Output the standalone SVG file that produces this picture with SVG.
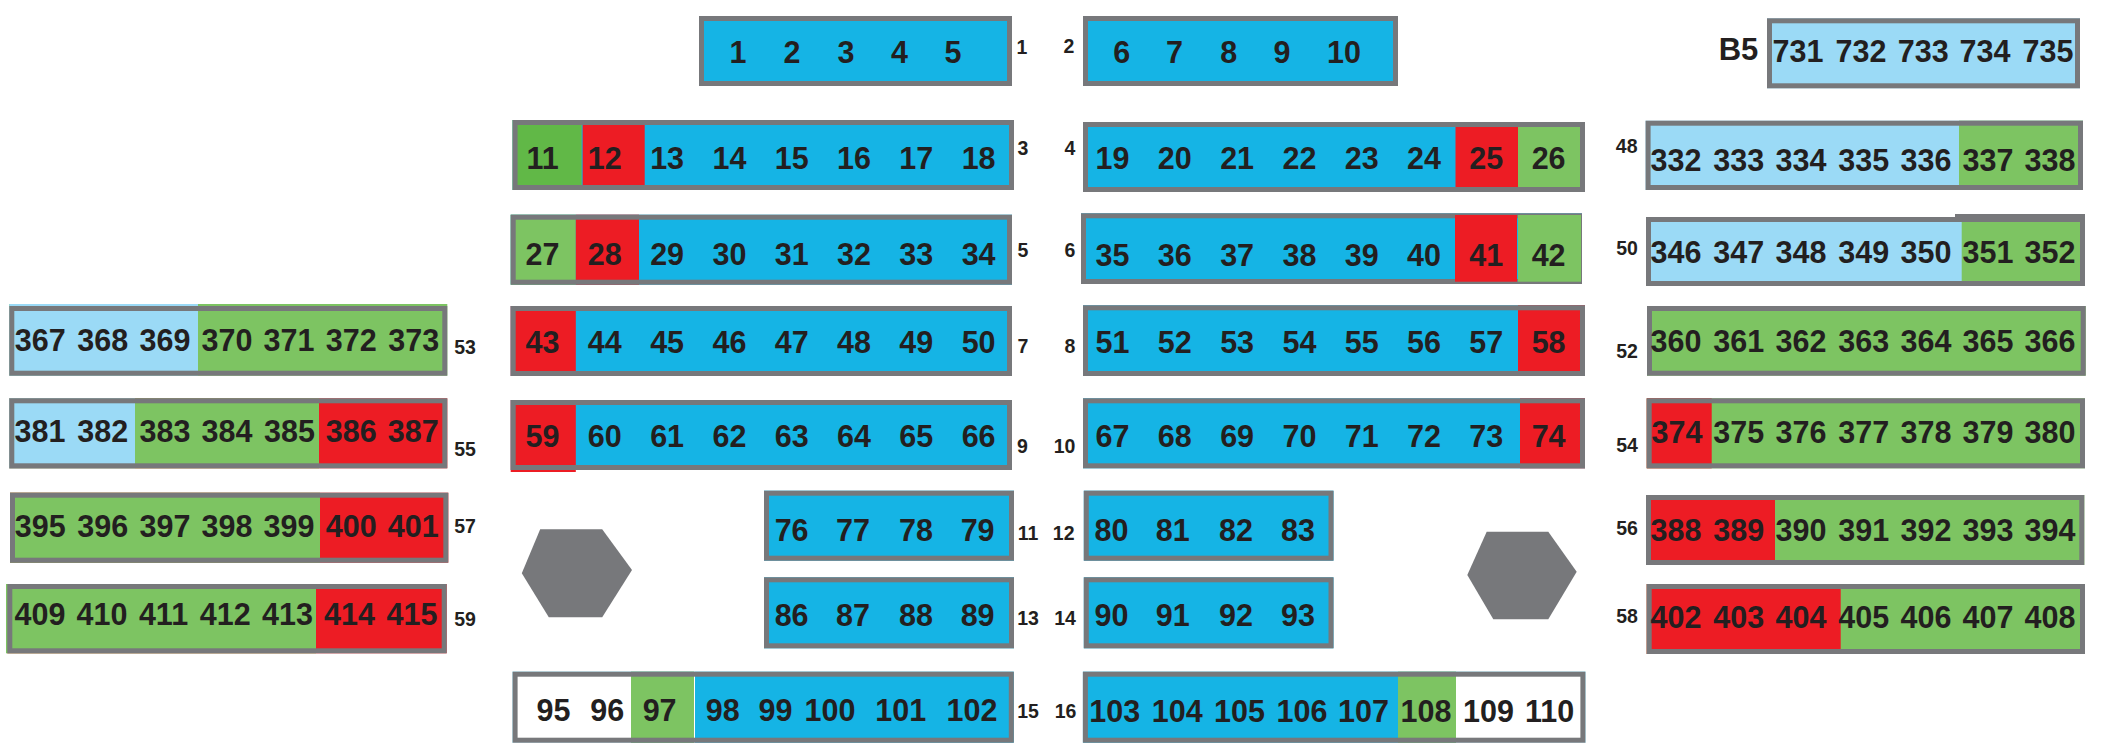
<svg xmlns="http://www.w3.org/2000/svg" width="2101" height="747" viewBox="0 0 2101 747">
<style>
.o{fill:none;stroke:#77787b;stroke-width:5}
.c{fill:#15b4e5}
.l{fill:#9bdaf6}
.g{fill:#7dc462}
.g2{fill:#61b847}
.r{fill:#ed1c24}
.w{fill:#fff}
.h{fill:#77787b}
text{font-family:"Liberation Sans",Arial,sans-serif;font-weight:bold;fill:#231f20;text-anchor:middle}
.t{font-size:30.5px}
.n{font-size:19.5px}
</style>
<rect width="2101" height="747" fill="#fff"/>
<g id="connectors"></g>

<g id="box1">
<rect class="c" x="699" y="16" width="313" height="70"/>
<rect class="o" x="701.5" y="18.5" width="308" height="65"/>
<text class="t" x="738" y="63">1</text><text class="t" x="792" y="63">2</text><text class="t" x="846" y="63">3</text><text class="t" x="899.5" y="63">4</text><text class="t" x="953" y="63">5</text>
<text class="n" x="1022" y="54">1</text>
</g>
<g id="box2">
<rect class="c" x="1083" y="16" width="315" height="70"/>
<rect class="o" x="1085.5" y="18.5" width="310" height="65"/>
<text class="t" x="1121.7" y="63">6</text><text class="t" x="1174.5" y="63">7</text><text class="t" x="1228.7" y="63">8</text><text class="t" x="1282" y="63">9</text><text class="t" x="1344" y="63">10</text>
<text class="n" x="1069" y="53">2</text>
</g>

<g id="box3">
<rect class="c" x="512.6" y="120" width="501.4" height="70"/>
<rect class="g2" x="512.6" y="120" width="69" height="70"/>
<rect class="r" x="582.6" y="120" width="62.1" height="70"/>
<rect class="o" x="515.1" y="122.5" width="496.4" height="65"/>
<text class="t" x="542.5" y="169.3">11</text><text class="t" x="604.8" y="169.3">12</text><text class="t" x="667.1" y="169.3">13</text><text class="t" x="729.4" y="169.3">14</text><text class="t" x="791.7" y="169.3">15</text><text class="t" x="854" y="169.3">16</text><text class="t" x="916.3" y="169.3">17</text><text class="t" x="978.6" y="169.3">18</text>
<text class="n" x="1023" y="155">3</text>
</g>
<g id="box4">
<rect class="c" x="1083" y="122" width="502" height="70"/>
<rect class="r" x="1455.5" y="122" width="62.5" height="70"/>
<rect class="g" x="1518" y="122" width="67" height="70"/>
<rect class="o" x="1085.5" y="124.5" width="497" height="65"/>
<text class="t" x="1112.5" y="169">19</text><text class="t" x="1174.8" y="169">20</text><text class="t" x="1237.1" y="169">21</text><text class="t" x="1299.4" y="169">22</text><text class="t" x="1361.7" y="169">23</text><text class="t" x="1424" y="169">24</text><text class="t" x="1486.3" y="169">25</text><text class="t" x="1548.6" y="169">26</text>
<text class="n" x="1070" y="155">4</text>
</g>

<g id="box5">
<rect class="c" x="510.7" y="214.7" width="501.3" height="70"/>
<rect class="g" x="510.7" y="214.7" width="65.1" height="70"/>
<rect class="r" x="575.8" y="214.7" width="63.2" height="70"/>
<rect class="o" x="513.2" y="217.2" width="496.3" height="65"/>
<text class="t" x="542.5" y="265">27</text><text class="t" x="604.8" y="265">28</text><text class="t" x="667.1" y="265">29</text><text class="t" x="729.4" y="265">30</text><text class="t" x="791.7" y="265">31</text><text class="t" x="854" y="265">32</text><text class="t" x="916.3" y="265">33</text><text class="t" x="978.6" y="265">34</text>
<text class="n" x="1023" y="257">5</text>
</g>
<g id="box6">
<rect class="c" x="1081" y="213.3" width="501" height="70.7"/>
<rect class="o" x="1083.5" y="215.8" width="496" height="65.7"/>
<rect class="r" x="1455" y="215" width="62" height="66.7"/>
<rect class="g" x="1518" y="215" width="63" height="66.7"/>
<text class="t" x="1112.5" y="266">35</text><text class="t" x="1174.8" y="266">36</text><text class="t" x="1237.1" y="266">37</text><text class="t" x="1299.4" y="266">38</text><text class="t" x="1361.7" y="266">39</text><text class="t" x="1424" y="266">40</text><text class="t" x="1486.3" y="266">41</text><text class="t" x="1548.6" y="266">42</text>
<text class="n" x="1070" y="257">6</text>
</g>

<g id="box7">
<rect class="c" x="510.7" y="306" width="501.3" height="70"/>
<rect class="r" x="510.7" y="306" width="65.1" height="70"/>
<rect class="o" x="513.2" y="308.5" width="496.3" height="65"/>
<text class="t" x="542.5" y="352.7">43</text><text class="t" x="604.8" y="352.7">44</text><text class="t" x="667.1" y="352.7">45</text><text class="t" x="729.4" y="352.7">46</text><text class="t" x="791.7" y="352.7">47</text><text class="t" x="854" y="352.7">48</text><text class="t" x="916.3" y="352.7">49</text><text class="t" x="978.6" y="352.7">50</text>
<text class="n" x="1023" y="353">7</text>
</g>
<g id="box8">
<rect class="c" x="1083" y="305.3" width="502" height="70.7"/>
<rect class="r" x="1518" y="305.3" width="67" height="70.7"/>
<rect class="o" x="1085.5" y="307.8" width="497" height="65.7"/>
<text class="t" x="1112.5" y="352.7">51</text><text class="t" x="1174.8" y="352.7">52</text><text class="t" x="1237.1" y="352.7">53</text><text class="t" x="1299.4" y="352.7">54</text><text class="t" x="1361.7" y="352.7">55</text><text class="t" x="1424" y="352.7">56</text><text class="t" x="1486.3" y="352.7">57</text><text class="t" x="1548.6" y="352.7">58</text>
<text class="n" x="1070" y="353">8</text>
</g>

<g id="box9">
<rect class="c" x="510.7" y="400" width="501.3" height="70"/>
<rect class="r" x="510.7" y="400" width="65.1" height="72"/>
<rect class="o" x="513.2" y="402.5" width="496.3" height="65"/>
<text class="t" x="542.5" y="446.7">59</text><text class="t" x="604.8" y="446.7">60</text><text class="t" x="667.1" y="446.7">61</text><text class="t" x="729.4" y="446.7">62</text><text class="t" x="791.7" y="446.7">63</text><text class="t" x="854" y="446.7">64</text><text class="t" x="916.3" y="446.7">65</text><text class="t" x="978.6" y="446.7">66</text>
<text class="n" x="1022.4" y="453">9</text>
</g>
<g id="box10">
<rect class="c" x="1083" y="398.3" width="502" height="70"/>
<rect class="r" x="1520" y="398.3" width="65" height="70"/>
<rect class="o" x="1085.5" y="400.8" width="497" height="65"/>
<text class="t" x="1112.5" y="446.7">67</text><text class="t" x="1174.8" y="446.7">68</text><text class="t" x="1237.1" y="446.7">69</text><text class="t" x="1299.4" y="446.7">70</text><text class="t" x="1361.7" y="446.7">71</text><text class="t" x="1424" y="446.7">72</text><text class="t" x="1486.3" y="446.7">73</text><text class="t" x="1548.6" y="446.7">74</text>
<text class="n" x="1064.5" y="453">10</text>
</g>

<g id="box11">
<rect class="c" x="764" y="490.7" width="250" height="70"/>
<rect class="o" x="766.5" y="493.2" width="245" height="65"/>
<text class="t" x="791.6" y="540.7">76</text><text class="t" x="853" y="540.7">77</text><text class="t" x="916" y="540.7">78</text><text class="t" x="977.6" y="540.7">79</text>
<text class="n" x="1028" y="540">11</text>
</g>
<g id="box12">
<rect class="c" x="1083.8" y="490.7" width="249.7" height="70"/>
<rect class="o" x="1086.3" y="493.2" width="244.7" height="65"/>
<text class="t" x="1111.4" y="540.7">80</text><text class="t" x="1172.8" y="540.7">81</text><text class="t" x="1236" y="540.7">82</text><text class="t" x="1298" y="540.7">83</text>
<text class="n" x="1063.7" y="540">12</text>
</g>
<g id="box13">
<rect class="c" x="764" y="577.3" width="250" height="71"/>
<rect class="o" x="766.5" y="579.8" width="245" height="66"/>
<text class="t" x="791.6" y="626">86</text><text class="t" x="853" y="626">87</text><text class="t" x="916" y="626">88</text><text class="t" x="977.6" y="626">89</text>
<text class="n" x="1028" y="625">13</text>
</g>
<g id="box14">
<rect class="c" x="1083.8" y="577.3" width="249.7" height="71"/>
<rect class="o" x="1086.3" y="579.8" width="244.7" height="66"/>
<text class="t" x="1111.4" y="626">90</text><text class="t" x="1172.8" y="626">91</text><text class="t" x="1236" y="626">92</text><text class="t" x="1298" y="626">93</text>
<text class="n" x="1065" y="625">14</text>
</g>

<g id="box15">
<rect class="c" x="512.6" y="671.7" width="501.2" height="71"/>
<rect class="w" x="512.6" y="671.7" width="118.4" height="71"/>
<rect class="g" x="631" y="671.7" width="63" height="71"/>
<rect class="w" x="694" y="671.7" width="1" height="71"/>
<rect class="o" x="515.1" y="674.2" width="496.2" height="66"/>
<text class="t" x="553.4" y="720.7">95</text><text class="t" x="607.3" y="720.7">96</text><text class="t" x="659.6" y="720.7">97</text><text class="t" x="722.7" y="720.7">98</text><text class="t" x="775.5" y="720.7">99</text><text class="t" x="830" y="720.7">100</text><text class="t" x="900.7" y="720.7">101</text><text class="t" x="971.9" y="720.7">102</text>
<text class="n" x="1028" y="718.3">15</text>
</g>
<g id="box16">
<rect class="c" x="1082.9" y="671.7" width="502.5" height="71"/>
<rect class="g" x="1398" y="671.7" width="58" height="71"/>
<rect class="w" x="1456" y="671.7" width="129.4" height="71"/>
<rect class="o" x="1085.4" y="674.2" width="497.5" height="66"/>
<text class="t" x="1114.8" y="721.7">103</text><text class="t" x="1177.3" y="721.7">104</text><text class="t" x="1239.5" y="721.7">105</text><text class="t" x="1302" y="721.7">106</text><text class="t" x="1363.4" y="721.7">107</text><text class="t" x="1425.9" y="721.7">108</text><text class="t" x="1488.4" y="721.7">109</text><text class="t" x="1549.6" y="721.7">110</text>
<text class="n" x="1065.5" y="718.3">16</text>
</g>

<g id="hexLeft"><polygon class="h" points="540.2,529.3 602.2,529.3 632,570 602.2,617.3 548.8,617.3 521.8,573.3"/></g>
<g id="hexRight"><polygon class="h" points="1486.7,531.7 1548.3,531.7 1576.7,571.7 1548.3,619.3 1493.3,619.3 1467.3,575"/></g>

<g id="boxB5">
<text x="1738.5" y="60" style="font-size:31px">B5</text>
<rect class="l" x="1767" y="18.3" width="313" height="70"/>
<rect class="o" x="1769.5" y="20.8" width="308" height="65"/>
<text class="t" x="1798" y="61.7">731</text><text class="t" x="1861" y="61.7">732</text><text class="t" x="1923.3" y="61.7">733</text><text class="t" x="1985" y="61.7">734</text><text class="t" x="2048" y="61.7">735</text>
</g>
<g id="box48">
<rect class="l" x="1645.6" y="120.7" width="437.4" height="69.3"/>
<rect class="g" x="1959" y="120.7" width="124" height="69.3"/>
<rect class="o" x="1648.1" y="123.2" width="432.4" height="64.3"/>
<text class="t" x="1676" y="170.7">332</text><text class="t" x="1738.8" y="170.7">333</text><text class="t" x="1801" y="170.7">334</text><text class="t" x="1863.7" y="170.7">335</text><text class="t" x="1926" y="170.7">336</text><text class="t" x="1988" y="170.7">337</text><text class="t" x="2050" y="170.7">338</text>
<text class="n" x="1626.7" y="152.7">48</text>
</g>
<g id="box50">
<rect class="l" x="1646" y="217" width="439" height="69"/>
<rect class="g" x="1961.7" y="217" width="123.3" height="69"/>
<rect class="o" x="1648.5" y="219.5" width="434" height="64"/>
<rect class="h" x="1955" y="214" width="130" height="4"/>
<text class="t" x="1676" y="263.3">346</text><text class="t" x="1738.8" y="263.3">347</text><text class="t" x="1801" y="263.3">348</text><text class="t" x="1863.7" y="263.3">349</text><text class="t" x="1926" y="263.3">350</text><text class="t" x="1988" y="263.3">351</text><text class="t" x="2050" y="263.3">352</text>
<text class="n" x="1627" y="255">50</text>
</g>
<g id="box52">
<rect class="g" x="1647" y="306" width="438.7" height="69.7"/>
<rect class="o" x="1649.5" y="308.5" width="433.7" height="64.7"/>
<text class="t" x="1676" y="351.7">360</text><text class="t" x="1738.8" y="351.7">361</text><text class="t" x="1801" y="351.7">362</text><text class="t" x="1863.7" y="351.7">363</text><text class="t" x="1926" y="351.7">364</text><text class="t" x="1988" y="351.7">365</text><text class="t" x="2050" y="351.7">366</text>
<text class="n" x="1627" y="358">52</text>
</g>
<g id="box54">
<rect class="g" x="1646.7" y="398.3" width="438.3" height="70"/>
<rect class="r" x="1646.7" y="398.3" width="65" height="70"/>
<rect class="o" x="1649.2" y="400.8" width="433.3" height="65"/>
<text class="t" x="1677" y="443.3">374</text><text class="t" x="1738.8" y="443.3">375</text><text class="t" x="1801" y="443.3">376</text><text class="t" x="1863.7" y="443.3">377</text><text class="t" x="1926" y="443.3">378</text><text class="t" x="1988" y="443.3">379</text><text class="t" x="2050" y="443.3">380</text>
<text class="n" x="1627" y="451.7">54</text>
</g>
<g id="box56">
<rect class="g" x="1646" y="495" width="438.3" height="70"/>
<rect class="r" x="1646" y="495" width="129" height="70"/>
<rect class="o" x="1648.5" y="497.5" width="433.3" height="65"/>
<text class="t" x="1676" y="540.7">388</text><text class="t" x="1738.8" y="540.7">389</text><text class="t" x="1801" y="540.7">390</text><text class="t" x="1863.7" y="540.7">391</text><text class="t" x="1926" y="540.7">392</text><text class="t" x="1988" y="540.7">393</text><text class="t" x="2050" y="540.7">394</text>
<text class="n" x="1627" y="535">56</text>
</g>
<g id="box58">
<rect class="g" x="1646.7" y="584" width="438.3" height="70"/>
<rect class="r" x="1646.7" y="584" width="194" height="70"/>
<rect class="o" x="1649.2" y="586.5" width="433.3" height="65"/>
<text class="t" x="1676" y="628">402</text><text class="t" x="1738.8" y="628">403</text><text class="t" x="1801" y="628">404</text><text class="t" x="1863.7" y="628">405</text><text class="t" x="1926" y="628">406</text><text class="t" x="1988" y="628">407</text><text class="t" x="2050" y="628">408</text>
<text class="n" x="1627" y="623.3">58</text>
</g>

<g id="box53">
<rect class="g" x="9.3" y="304" width="438" height="71.7"/>
<rect class="l" x="9.3" y="304" width="188.7" height="71.7"/>
<rect class="o" x="11.8" y="308.5" width="433" height="64.7"/>
<text class="t" x="40.3" y="351">367</text><text class="t" x="102.8" y="351">368</text><text class="t" x="165" y="351">369</text><text class="t" x="227" y="351">370</text><text class="t" x="289" y="351">371</text><text class="t" x="351.3" y="351">372</text><text class="t" x="413.8" y="351">373</text>
<text class="n" x="465" y="354">53</text>
</g>
<g id="box55">
<rect class="r" x="9.3" y="398.3" width="438" height="70"/>
<rect class="g" x="9.3" y="398.3" width="309.7" height="70"/>
<rect class="l" x="9.3" y="398.3" width="125.7" height="70"/>
<rect class="o" x="11.8" y="400.8" width="433" height="65"/>
<text class="t" x="40" y="441.7">381</text><text class="t" x="102.8" y="441.7">382</text><text class="t" x="165" y="441.7">383</text><text class="t" x="227" y="441.7">384</text><text class="t" x="289.5" y="441.7">385</text><text class="t" x="351.3" y="441.7">386</text><text class="t" x="413.3" y="441.7">387</text>
<text class="n" x="465" y="456">55</text>
</g>
<g id="box57">
<rect class="r" x="10" y="492.7" width="438.3" height="70"/>
<rect class="g" x="10" y="492.7" width="310" height="70"/>
<rect class="o" x="12.5" y="495.2" width="433.3" height="65"/>
<text class="t" x="40.3" y="536.7">395</text><text class="t" x="102.8" y="536.7">396</text><text class="t" x="165" y="536.7">397</text><text class="t" x="227" y="536.7">398</text><text class="t" x="289" y="536.7">399</text><text class="t" x="351.3" y="536.7">400</text><text class="t" x="413.3" y="536.7">401</text>
<text class="n" x="465" y="533.3">57</text>
</g>
<g id="box59">
<rect class="r" x="7.3" y="584" width="439.4" height="69.3"/>
<rect class="g" x="6" y="584" width="310" height="69.3"/>
<rect class="o" x="9.8" y="586.5" width="434.4" height="64.3"/>
<text class="t" x="40" y="625">409</text><text class="t" x="102" y="625">410</text><text class="t" x="163.5" y="625">411</text><text class="t" x="225.3" y="625">412</text><text class="t" x="287.5" y="625">413</text><text class="t" x="349.5" y="625">414</text><text class="t" x="412" y="625">415</text>
<text class="n" x="465" y="625.7">59</text>
</g>
</svg>
